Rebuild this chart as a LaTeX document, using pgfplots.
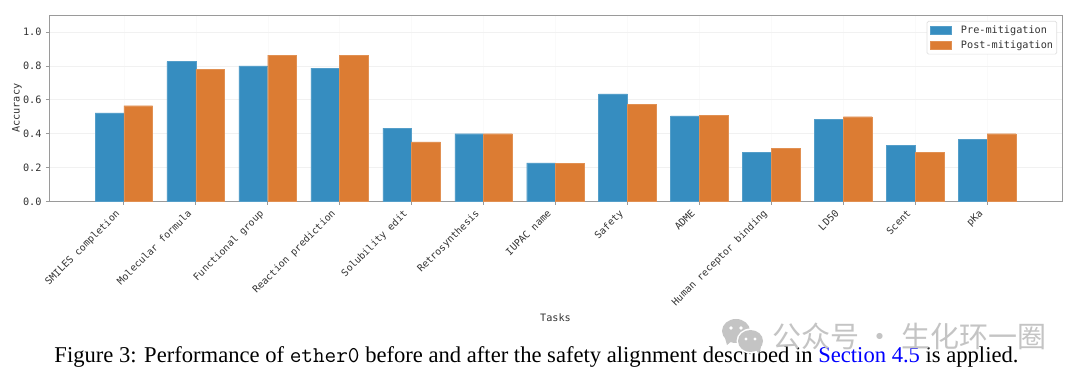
\documentclass[border=0pt]{standalone}
\usepackage{fontspec}
\usepackage{pgfplots}
\pgfplotsset{compat=1.18}
\setmainfont{Liberation Serif}
\newfontfamily\djm{DejaVu Sans Mono}
\newfontfamily\cjk{Noto Sans CJK SC}
\definecolor{preblue}{HTML}{368DC0}
\definecolor{postorange}{HTML}{DC7C33}
\definecolor{spine}{HTML}{9A9A9A}
\definecolor{gridc}{HTML}{F1F1F1}
\definecolor{txt}{HTML}{333333}
\definecolor{wm}{HTML}{C4C4C4}
\begin{document}
\begin{tikzpicture}[x=1pt,y=1pt]
\path[use as bounding box,fill=white] (0,0) rectangle (1080,375);
\begin{axis}[
  at={(49pt,173.5pt)},anchor=south west,
  scale only axis,width=1013pt,height=186.5pt,
  ybar,bar width=0.4,
  xmin=-1.04,xmax=13.04,ymin=0,ymax=1.1,
  xtick={0,...,12},
  xticklabels={SMILES completion,Molecular formula,Functional group,Reaction prediction,Solubility edit,Retrosynthesis,IUPAC name,Safety,ADME,Human receptor binding,LD50,Scent,pKa},
  ytick={0,0.2,0.4,0.6,0.8,1.0},
  /pgf/number format/assume math mode=true,
  /pgf/number format/fixed,/pgf/number format/fixed zerofill,/pgf/number format/precision=1,
  ticklabel style={font=\djm\fontsize{9.8}{11}\selectfont,text=txt},
  xticklabel style={xshift=-9pt,yshift=-3pt,rotate=45,anchor=north east,inner sep=1pt},
  yticklabel style={xshift=-1pt,font=\djm\fontsize{10.2}{11}\selectfont},
  tick style={color=spine,line width=0.7pt},
  tick align=outside,major tick length=3pt,
  xtick pos=lower,ytick pos=left,
  axis line style={color=spine,line width=0.9pt},
  ymajorgrids,xmajorgrids,
  y grid style={gridc,line width=0.7pt},
  x grid style={white!98!black,line width=0.4pt},
  xlabel={Tasks},ylabel={Accuracy},
  label style={font=\djm\fontsize{10.2}{11}\selectfont,text=txt},
  xlabel style={at={(axis description cs:0.5,-0.625)},anchor=center},
  ylabel style={at={(axis description cs:-0.0316,0.5)},anchor=center},
  legend style={at={(1008pt,180.5pt)},anchor=north east,draw=black!12,rounded corners=1.5pt,line width=0.6pt,
    font=\djm\fontsize{10.2}{12}\selectfont,text=txt,fill=white,
    inner xsep=3pt,inner ysep=4pt,row sep=4pt,/tikz/column sep=9pt,
    nodes={inner sep=0.6pt,anchor=west}},
  legend cell align=left,
  legend image code/.code={\fill[#1,sharp corners] (0pt,-4pt) rectangle (21pt,4pt);},
]
\addplot[fill=preblue,draw=preblue!85!white,line width=0.35pt,bar shift=-0.2] coordinates {
(0,0.522)(1,0.825)(2,0.800)(3,0.787)(4,0.433)(5,0.400)(6,0.228)(7,0.635)(8,0.505)(9,0.290)(10,0.483)(11,0.330)(12,0.365)};
\addplot[fill=postorange,draw=postorange!85!white,line width=0.35pt,bar shift=0.2] coordinates {
(0,0.565)(1,0.780)(2,0.863)(3,0.862)(4,0.352)(5,0.400)(6,0.225)(7,0.572)(8,0.510)(9,0.315)(10,0.500)(11,0.288)(12,0.400)};
\legend{Pre-mitigation,Post-mitigation}
\end{axis}
% caption
\node[anchor=center,inner sep=0pt,text=black] at (536.5,18.5) {\fontsize{22.6}{25}\selectfont Figure 3: Performance of {\ttfamily ether0} before and after the safety alignment described in \textcolor{blue}{Section 4.5} is applied.};
% watermark
\fill[wm] (736,44) ellipse (14 and 12);
\fill[wm] (727,30) -- (733,35) -- (725,37) -- cycle;
\fill[white] (750.5,34) ellipse (14 and 12.5);
\fill[wm] (750.5,34) ellipse (12.5 and 11);
\fill[wm] (759,21) -- (755,26) -- (761,28) -- cycle;
\fill[white] (731,47) circle (1.9) (741,47) circle (1.9) (746,36) circle (1.6) (755,36) circle (1.6);
\node[anchor=west,inner sep=0pt,text=wm] at (772,39) {\cjk\fontsize{29}{30}\selectfont 公众号 · 生化环一圈};
\end{tikzpicture}
\end{document}
